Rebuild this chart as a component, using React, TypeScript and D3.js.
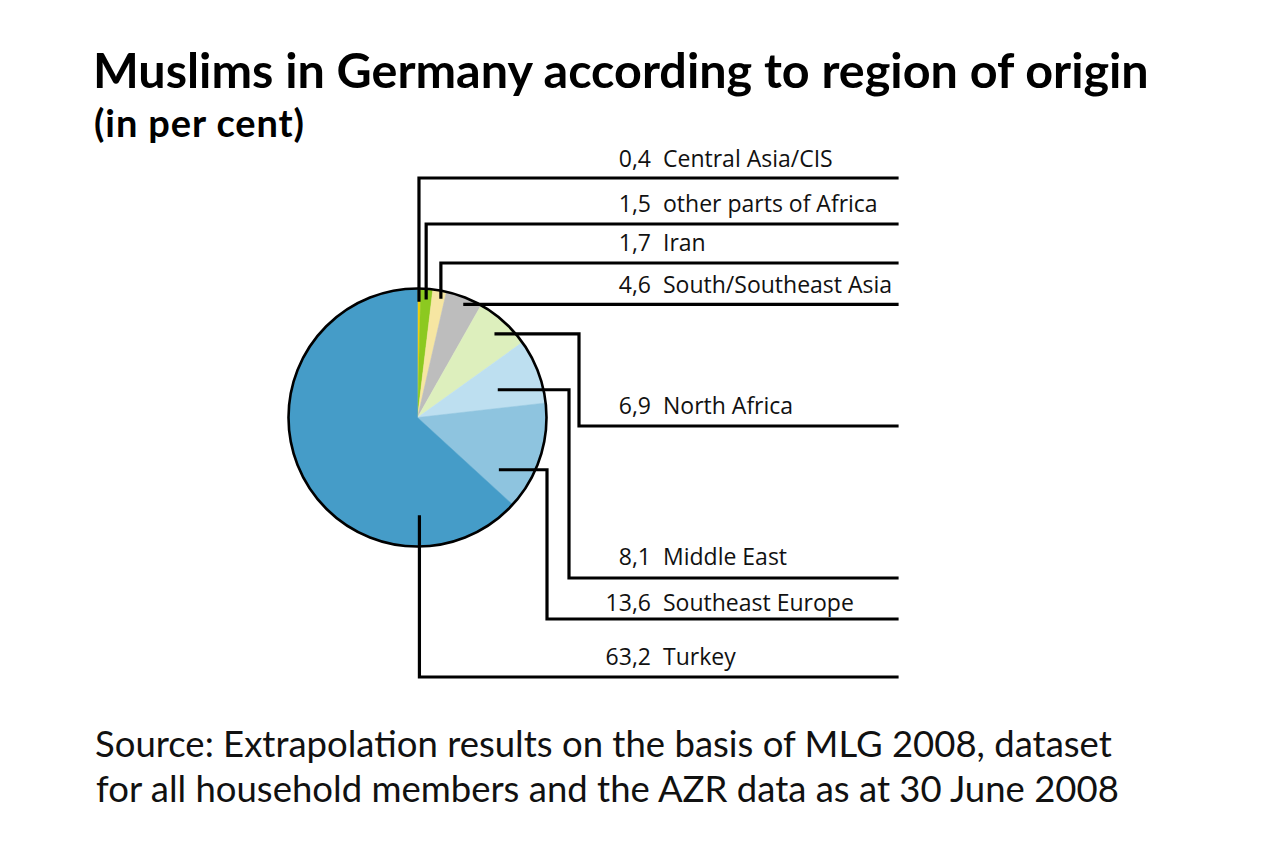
import React, { useEffect, useRef } from 'react';
import * as d3 from 'd3';

// shares in per cent, clockwise from 12 o'clock
const regions = [
  'Central Asia/CIS',
  'other parts of Africa',
  'Iran',
  'South/Southeast Asia',
  'North Africa',
  'Middle East',
  'Southeast Europe',
  'Turkey',
];
const shares = [0.4, 1.5, 1.7, 4.6, 6.9, 8.1, 13.6, 63.2];
const sliceColors = [
  '#f2cf0f',
  '#8cc920',
  '#f6e6a2',
  '#bdbdbd',
  '#ddefbd',
  '#bddff0',
  '#8ec4df',
  '#459cc8',
];

// leader line layout: where in the slice the line starts (t = share of slice
// angle, r = share of radius), where it bends, at which height it runs out,
// and how far above that line the label sits
const leaders = [
  { t: 0.5, r: 0.91, elbow: null, lineY: 178, gap: 11 },
  { t: 0.5, r: 0.93, elbow: null, lineY: 224, gap: 12 },
  { t: 0.68, r: 0.95, elbow: null, lineY: 263, gap: 12 },
  { t: 0.59, r: 0.95, elbow: null, lineY: null, gap: 11 },
  { t: 0.55, r: 0.89, elbow: 579, lineY: 426, gap: 12 },
  { t: 0.58, r: 0.67, elbow: 569, lineY: 578, gap: 13 },
  { t: 0.79, r: 0.76, elbow: 547, lineY: 619, gap: 8 },
  { t: 0.204, r: 0.77, elbow: null, lineY: 677, gap: 12 },
];

const W = 1280;
const H = 853;
const cx = 417.5;
const cy = 417.5;
const R = 129;
const lineEnd = 897;
const numX = 651;
const nameX = 663;

const fmt = (v: number) => d3.format('.1f')(v).replace('.', ',');

const App: React.FC = () => {
  const svgRef = useRef<SVGSVGElement>(null);

  useEffect(() => {
    const svg = d3.select(svgRef.current);
    svg.selectAll('*').remove();

    const data = regions.map((name, i) => ({ name, value: shares[i], i }));

    const pie = d3.pie<typeof data[number]>()
      .value(d => d.value)
      .sort(null);
    const arcs = pie(data);

    const arc = d3.arc<d3.PieArcDatum<typeof data[number]>>()
      .innerRadius(0)
      .outerRadius(R);

    const g = svg.append('g').attr('transform', `translate(${cx},${cy})`);

    g.selectAll('path.slice')
      .data(arcs)
      .join('path')
        .attr('class', 'slice')
        .attr('d', arc)
        .attr('fill', d => sliceColors[d.data.i])
        .attr('stroke', d => sliceColors[d.data.i])
        .attr('stroke-width', 0.5);

    g.append('circle')
      .attr('r', R)
      .attr('fill', 'none')
      .attr('stroke', '#000')
      .attr('stroke-width', 2.6);

    // leader lines
    const points = arcs.map(a => {
      const L = leaders[a.data.i];
      const ang = a.startAngle + (a.endAngle - a.startAngle) * L.t;
      const x = cx + Math.sin(ang) * R * L.r;
      const y = cy - Math.cos(ang) * R * L.r;
      const ex = L.elbow ?? x;
      const ly = L.lineY ?? y;
      return { x, y, ex, ly, gap: L.gap, d: a.data };
    });

    const line = d3.line();
    svg.append('g')
      .selectAll('path')
      .data(points)
      .join('path')
        .attr('d', p => line([[p.x, p.y], [p.ex, p.y], [p.ex, p.ly], [lineEnd, p.ly]]))
        .attr('fill', 'none')
        .attr('stroke', '#000')
        .attr('stroke-width', 3.2)
        .attr('stroke-linejoin', 'miter')
        .attr('stroke-linecap', 'square');

    const labels = svg.append('g')
      .style('font-family', '"Open Sans", sans-serif')
      .style('font-size', '23px')
      .attr('fill', '#111');

    labels.selectAll('text.num')
      .data(points)
      .join('text')
        .attr('class', 'num')
        .attr('x', numX)
        .attr('y', p => p.ly - p.gap)
        .attr('text-anchor', 'end')
        .text(p => fmt(p.d.value));

    labels.selectAll('text.name')
      .data(points)
      .join('text')
        .attr('class', 'name')
        .attr('x', nameX)
        .attr('y', p => p.ly - p.gap)
        .text(p => p.d.name);

    // titles
    svg.append('text')
      .attr('x', 93)
      .attr('y', 88)
      .style('font-family', 'Lato, sans-serif')
      .style('font-weight', 700)
      .style('font-size', '48.5px')
      .text('Muslims in Germany according to region of origin');

    svg.append('text')
      .attr('x', 94)
      .attr('y', 137)
      .style('font-family', 'Lato, sans-serif')
      .style('font-weight', 700)
      .style('font-size', '38px')
      .attr('textLength', 210)
      .text('(in per cent)');

    const src = svg.append('text')
      .style('font-family', 'Lato, sans-serif')
      .style('font-size', '36.5px')
      .attr('fill', '#111');
    src.append('tspan').attr('x', 95).attr('y', 757)
      .text('Source: Extrapolation results on the basis of MLG 2008, dataset');
    src.append('tspan').attr('x', 96).attr('y', 802)
      .text('for all household members and the AZR data as at 30 June 2008');
  }, []);

  return (
    <svg
      ref={svgRef}
      width={W}
      height={H}
      viewBox={`0 0 ${W} ${H}`}
      style={{ position: 'absolute', left: 0, top: 0, background: '#fff' }}
    />
  );
};

export default App;
